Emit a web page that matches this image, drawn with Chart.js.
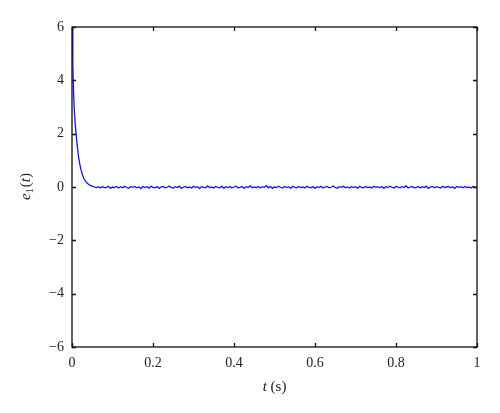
<!DOCTYPE html>
<html>
<head>
<meta charset="utf-8">
<script src="https://cdn.jsdelivr.net/npm/chart.js@4"></script>
<style>
  html, body { margin: 0; padding: 0; background: #fff; }
  #wrap { width: 500px; height: 413px; }
</style>
</head>
<body>
<div id="wrap"><canvas id="chart" width="500" height="413"></canvas></div>
<script>
// Initial decay of e1(t)
const tDecay = [0, 0.002, 0.004, 0.006, 0.008, 0.010, 0.013, 0.016, 0.019, 0.022, 0.026, 0.030, 0.035, 0.040, 0.045, 0.050, 0.055];
const eDecay = [6.0, 4.6, 3.5, 2.8, 2.35, 2.0, 1.55, 1.15, 0.88, 0.66, 0.45, 0.30, 0.18, 0.11, 0.06, 0.03, 0.0];

// Steady-state part: small noise around zero
const tSteady = [
  0.06, 0.065, 0.07, 0.075, 0.08, 0.085, 0.09, 0.095, 0.1, 0.105, 0.11, 0.115, 0.12, 0.125, 0.13, 0.135, 0.14, 0.145, 0.15, 0.155,
  0.16, 0.165, 0.17, 0.175, 0.18, 0.185, 0.19, 0.195, 0.2, 0.205, 0.21, 0.215, 0.22, 0.225, 0.23, 0.235, 0.24, 0.245, 0.25, 0.255,
  0.26, 0.265, 0.27, 0.275, 0.28, 0.285, 0.29, 0.295, 0.3, 0.305, 0.31, 0.315, 0.32, 0.325, 0.33, 0.335, 0.34, 0.345, 0.35, 0.355,
  0.36, 0.365, 0.37, 0.375, 0.38, 0.385, 0.39, 0.395, 0.4, 0.405, 0.41, 0.415, 0.42, 0.425, 0.43, 0.435, 0.44, 0.445, 0.45, 0.455,
  0.46, 0.465, 0.47, 0.475, 0.48, 0.485, 0.49, 0.495, 0.5, 0.505, 0.51, 0.515, 0.52, 0.525, 0.53, 0.535, 0.54, 0.545, 0.55, 0.555,
  0.56, 0.565, 0.57, 0.575, 0.58, 0.585, 0.59, 0.595, 0.6, 0.605, 0.61, 0.615, 0.62, 0.625, 0.63, 0.635, 0.64, 0.645, 0.65, 0.655,
  0.66, 0.665, 0.67, 0.675, 0.68, 0.685, 0.69, 0.695, 0.7, 0.705, 0.71, 0.715, 0.72, 0.725, 0.73, 0.735, 0.74, 0.745, 0.75, 0.755,
  0.76, 0.765, 0.77, 0.775, 0.78, 0.785, 0.79, 0.795, 0.8, 0.805, 0.81, 0.815, 0.82, 0.825, 0.83, 0.835, 0.84, 0.845, 0.85, 0.855,
  0.86, 0.865, 0.87, 0.875, 0.88, 0.885, 0.89, 0.895, 0.9, 0.905, 0.91, 0.915, 0.92, 0.925, 0.93, 0.935, 0.94, 0.945, 0.95, 0.955,
  0.96, 0.965, 0.97, 0.975, 0.98, 0.985, 0.99, 0.995, 1.0
];
const eSteady = [
  -0.02, 0.01, -0.04, 0.02, -0.03, -0.01, 0.03, -0.05, 0.00, -0.02, 0.02, -0.04, 0.01, -0.03, 0.03, -0.02, -0.05, 0.01, -0.01, 0.02,
  -0.03, 0.00, -0.06, 0.02, -0.02, 0.01, -0.04, 0.03, -0.01, -0.03, 0.02, -0.05, 0.00, 0.02, -0.03, -0.01, 0.04, -0.02, -0.04, 0.01,
  -0.02, 0.03, -0.05, -0.01, 0.02, -0.03, 0.00, -0.04, 0.03, -0.02, 0.01, -0.06, 0.02, -0.01, -0.03, 0.04, -0.02, 0.00, -0.04, 0.02,
  -0.01, -0.03, 0.03, -0.05, 0.01, -0.02, 0.02, -0.04, 0.00, 0.03, -0.03, -0.01, 0.02, -0.05, 0.01, -0.02, 0.04, -0.03, 0.00, -0.02,
  0.02, -0.04, 0.01, -0.01, 0.05, -0.03, 0.02, -0.05, 0.00, -0.02, 0.03, -0.01, -0.04, 0.02, -0.02, 0.01, -0.05, 0.03, -0.01, -0.03,
  0.02, -0.02, 0.00, -0.04, 0.03, -0.01, -0.03, 0.02, -0.05, 0.01, -0.02, 0.03, -0.04, 0.00, 0.02, -0.03, -0.01, 0.04, -0.02, -0.05,
  0.01, -0.01, 0.03, -0.03, 0.00, -0.04, 0.02, -0.02, 0.01, -0.05, 0.03, -0.01, -0.03, 0.02, -0.02, 0.00, -0.04, 0.03, -0.01, 0.01,
  -0.03, 0.02, -0.05, 0.01, -0.02, 0.03, -0.01, -0.04, 0.02, 0.00, -0.03, 0.01, -0.02, 0.04, -0.04, 0.00, 0.02, -0.03, -0.01, 0.02,
  -0.04, 0.01, -0.02, 0.03, -0.05, 0.00, 0.02, -0.03, 0.01, -0.01, -0.04, 0.03, -0.02, 0.00, 0.02, -0.03, 0.01, -0.05, 0.02, -0.01,
  0.01, -0.03, 0.02, -0.02, 0.00, -0.04, 0.02, -0.01, -0.02
];

const xTicks = [0, 0.2, 0.4, 0.6, 0.8, 1];
const yTicks = [-6, -4, -2, 0, 2, 4, 6];

const FONT = '"Liberation Serif", "DejaVu Serif", serif';

const points = tDecay.map((t, i) => ({ x: t, y: eDecay[i] }))
  .concat(tSteady.map((t, i) => ({ x: t, y: eSteady[i] })));

// Box frame, inward ticks on all four sides, and the axis titles.
const framePlugin = {
  id: 'frame',
  afterDraw(chart) {
    const { ctx, chartArea: a, scales } = chart;
    const len = 4;
    ctx.save();
    ctx.strokeStyle = '#111';
    ctx.lineWidth = 1.3;
    ctx.strokeRect(a.left, a.top, a.right - a.left, a.bottom - a.top);
    ctx.beginPath();
    xTicks.forEach(v => {
      const px = Math.round(scales.x.getPixelForValue(v)) + 0.5;
      ctx.moveTo(px, a.bottom); ctx.lineTo(px, a.bottom - len);
      ctx.moveTo(px, a.top); ctx.lineTo(px, a.top + len);
    });
    yTicks.forEach(v => {
      const py = Math.round(scales.y.getPixelForValue(v)) + 0.5;
      ctx.moveTo(a.left, py); ctx.lineTo(a.left + len, py);
      ctx.moveTo(a.right, py); ctx.lineTo(a.right - len, py);
    });
    ctx.stroke();

    // x title: "t (s)"
    ctx.fillStyle = '#222';
    ctx.textBaseline = 'alphabetic';
    const cx = (a.left + a.right) / 2;
    const ty = 391;
    ctx.font = 'italic 15px ' + FONT;
    const wT = ctx.measureText('t').width;
    ctx.font = '15px ' + FONT;
    const wS = ctx.measureText(' (s)').width;
    let x0 = cx - (wT + wS) / 2;
    ctx.font = 'italic 15px ' + FONT;
    ctx.textAlign = 'left';
    ctx.fillText('t', x0, ty);
    ctx.font = '15px ' + FONT;
    ctx.fillText(' (s)', x0 + wT, ty);

    // y title: "e1(t)" with subscript, rotated
    const cy = (a.top + a.bottom) / 2;
    ctx.translate(30, cy);
    ctx.rotate(-Math.PI / 2);
    const parts = [
      { s: 'e', f: 'italic 15px ' + FONT, dy: 0 },
      { s: '1', f: '10px ' + FONT, dy: 3 },
      { s: '(', f: '15px ' + FONT, dy: 0 },
      { s: 't', f: 'italic 15px ' + FONT, dy: 0 },
      { s: ')', f: '15px ' + FONT, dy: 0 }
    ];
    let total = 0;
    parts.forEach(p => { ctx.font = p.f; p.w = ctx.measureText(p.s).width; total += p.w; });
    let px = -total / 2;
    parts.forEach(p => { ctx.font = p.f; ctx.fillText(p.s, px, p.dy); px += p.w + (p.s === '1' ? 1 : 0); });
    ctx.restore();
  }
};

const minus = v => (v < 0 ? '\u2212' + Math.abs(v) : String(v));

new Chart(document.getElementById('chart'), {
  type: 'line',
  data: {
    datasets: [{
      data: points,
      borderColor: '#1414f0',
      borderWidth: 1.3,
      pointRadius: 0,
      tension: 0,
      fill: false
    }]
  },
  options: {
    responsive: false,
    animation: false,
    layout: { padding: { left: 0, top: 27, right: 23, bottom: 0 } },
    plugins: { legend: { display: false }, tooltip: { enabled: false } },
    scales: {
      x: {
        type: 'linear',
        min: 0,
        max: 1,
        afterFit: s => { s.height = 66; },
        afterBuildTicks: s => { s.ticks = xTicks.map(v => ({ value: v })); },
        grid: { drawOnChartArea: false, drawTicks: false },
        border: { display: false },
        ticks: {
          color: '#222',
          padding: 8,
          maxRotation: 0,
          font: { family: FONT, size: 14 },
          callback: v => minus(Math.round(v * 10) / 10)
        }
      },
      y: {
        type: 'linear',
        min: -6,
        max: 6,
        afterFit: s => { s.width = 72; },
        afterBuildTicks: s => { s.ticks = yTicks.map(v => ({ value: v })); },
        grid: { drawOnChartArea: false, drawTicks: false },
        border: { display: false },
        ticks: {
          color: '#222',
          padding: 8,
          font: { family: FONT, size: 14 },
          callback: v => minus(v)
        }
      }
    }
  },
  plugins: [framePlugin]
});
</script>
</body>
</html>
